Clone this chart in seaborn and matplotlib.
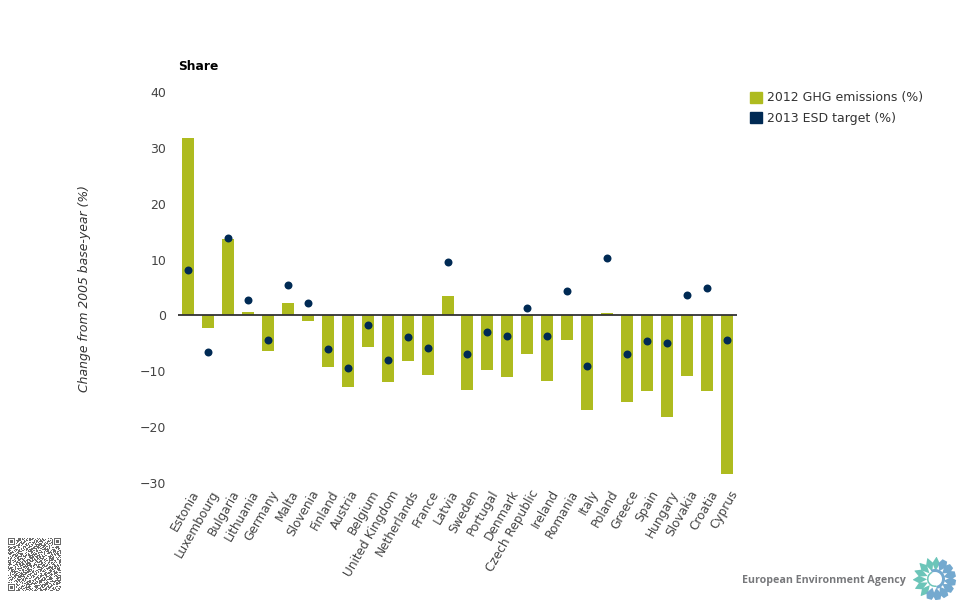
#!/usr/bin/env python3
# Greenhouse gas change per country against the 2013 ESD target.
import math

import numpy as np
import pandas as pd
import seaborn as sns
import matplotlib
matplotlib.use('Agg')
import matplotlib.pyplot as plt
from matplotlib.patches import Patch, Polygon, Wedge
from matplotlib.transforms import ScaledTranslation

countries = ['Estonia', 'Luxembourg', 'Bulgaria', 'Lithuania', 'Germany', 'Malta', 'Slovenia',
  'Finland', 'Austria', 'Belgium', 'United Kingdom', 'Netherlands', 'France', 'Latvia',
  'Sweden', 'Portugal', 'Denmark', 'Czech Republic', 'Ireland', 'Romania', 'Italy',
  'Poland', 'Greece', 'Spain', 'Hungary', 'Slovakia', 'Croatia', 'Cyprus']
ghg2012 = [31.8, -2.3, 13.7, 0.6, -6.4, 2.2, -1.0,
  -9.3, -12.8, -5.7, -11.9, -8.2, -10.7, 3.5,
  -13.4, -9.8, -11.0, -6.9, -11.8, -4.4, -17.0,
  0.4, -15.5, -13.6, -18.2, -10.9, -13.6, -28.4]
esd2013 = [8.1, -6.5, 13.9, 2.8, -4.4, 5.4, 2.3,
  -6.0, -9.4, -1.8, -8.0, -3.9, -5.8, 9.5,
  -6.9, -2.9, -3.6, 1.3, -3.7, 4.4, -9.0,
  10.2, -6.9, -4.5, -4.9, 3.7, 5.0, -4.4]
yTicks = [-30, -20, -10, 0, 10, 20, 30, 40]

# Decorative QR code texture, one hex value per row
qrRows = ['1d3a96c52', '0b67e41d9', '3c95a07e4', '17e2d8b36', '2a41f6c98', '05bc3971e', '34d86ea25',
  '1f072cb94', '28e5b4d17', '0c9a67f32', '3b14de869', '16f8a25c7', '21c73e9b4', '0e5d98a63',
  '39a26f1d8', '14c7eb350', '2d83a96f1', '07f1c4e2b', '32b6d8597', '1a49e07c6', '25d3b6f18',
  '0868fa3d5', '3e17c92b4', '13a5d674e', '2cf9481b6', '06e2b7d39', '3149ca6f7', '1b76e3d05',
  '24c08f9b2', '0d95b16e8', '3a6f27c41', '11d8e5a96', '2e37b4c6d']
QR_SIZE = 53

GREEN = '#aebb1f'
NAVY = '#002a54'
TEXT = '#444444'
FONT_SIZE = 8.7

sns.set_theme(style='white')
plt.rcParams['font.family'] = ['DejaVu Sans']

df = pd.DataFrame({'country': countries, 'ghg': ghg2012, 'esd': esd2013})

fig = plt.figure(figsize=(9.66, 6.0), dpi=100)
ax = fig.add_axes([178/966, 1 - 483/600, (737 - 178)/966, (483 - 92)/600])

sns.barplot(data=df, x='country', y='ghg', color=GREEN, width=0.6, saturation=1, linewidth=0, ax=ax)
sns.scatterplot(data=df, x='country', y='esd', color=NAVY, s=33, linewidth=0, zorder=4, ax=ax)

ax.set_xlim(-0.5, len(countries) - 0.5)
ax.set_ylim(-30, 40)
ax.axhline(0, color='#333333', lw=1.3, zorder=3)
ax.set_yticks(yTicks)
ax.set_xlabel('')
ax.set_ylabel('Change from 2005 base-year (%)', fontsize=8.95, style='italic', color='#333333', labelpad=0)
ax.yaxis.set_label_coords((91 - 178)/(737 - 178), 1 - (288 - 92)/391)
ax.tick_params(axis='y', labelsize=9, labelcolor=TEXT, length=0, pad=8.5)
ax.tick_params(axis='x', labelsize=FONT_SIZE, labelcolor=TEXT, length=0, pad=3.5)
plt.setp(ax.get_xticklabels(), rotation=60, ha='right', rotation_mode='anchor')
nudge = ScaledTranslation(2.5/100, 0, fig.dpi_scale_trans)
for label in ax.get_xticklabels():
  label.set_transform(label.get_transform() + nudge)
sns.despine(ax=ax, left=True, bottom=True)

handles = [Patch(color=GREEN, label='2012 GHG emissions (%)'), Patch(color=NAVY, label='2013 ESD target (%)')]
fig.legend(handles=handles, loc='upper left', bbox_to_anchor=(750/966, 1 - 91.5/600), frameon=False,
  fontsize=9.0, labelcolor='#333333', handlelength=0.96, handleheight=0.96, handletextpad=0.4,
  labelspacing=0.58, borderpad=0, borderaxespad=0)

# Everything below is placed in figure pixels
overlay = fig.add_axes([0, 0, 1, 1], zorder=5)
overlay.set_xlim(0, 966)
overlay.set_ylim(600, 0)
overlay.axis('off')
overlay.patch.set_alpha(0)

overlay.text(178, 67, 'Share', fontsize=8.8, fontweight='bold', color='black', va='center')
overlay.text(742, 580, 'European Environment Agency', family='Open Sans', fontsize=7.7, fontweight='bold',
  color='#77787b', va='center')

# QR code
bits = ''.join(format(int(row, 16), '036b') for row in qrRows)
bits = bits + bits[::-1] + bits[17:]
qr = np.array([int(b) for b in bits[:QR_SIZE*QR_SIZE]], dtype=float).reshape(QR_SIZE, QR_SIZE)
finder = np.ones((7, 7))
finder[1:6, 1:6] = 0
finder[2:5, 2:5] = 1
far = QR_SIZE - 7
for r, c in [(0, 0), (0, far), (far, 0)]:
  qr[max(r - 1, 0):r + 8, max(c - 1, 0):c + 8] = 0
  qr[r:r + 7, c:c + 7] = finder
overlay.imshow(qr, cmap='gray_r', vmin=0, vmax=1.7, extent=(8, 61, 591, 538), interpolation='nearest',
  aspect='auto')
overlay.set_xlim(0, 966)
overlay.set_ylim(600, 0)

# Logo
cx, cy = 935, 579
TEAL = '#6cc5b9'
BLUE = '#74a9cf'
def petal(angleDeg, inner, outer, halfWidth, tipWidth, color):
  a = math.radians(angleDeg)
  ux, uy = math.cos(a), -math.sin(a)
  vx, vy = -uy, ux
  mid = inner + (outer - inner)*0.55
  pts = [(cx + ux*inner, cy + uy*inner),
    (cx + ux*mid + vx*halfWidth, cy + uy*mid + vy*halfWidth),
    (cx + ux*outer + vx*tipWidth, cy + uy*outer + vy*tipWidth),
    (cx + ux*outer - vx*tipWidth, cy + uy*outer - vy*tipWidth),
    (cx + ux*mid - vx*halfWidth, cy + uy*mid - vy*halfWidth)]
  overlay.add_patch(Polygon(pts, closed=True, color=color, lw=0))

for angle in [86, 110, 134, 158, 182, 206, 230]:
  petal(angle, 8, 22, 3.8, 0.3, TEAL)
for angle in [62, 38, 14, -10, -34, -58, -82, -106]:
  petal(angle, 9, 21, 4.4, 2.6, BLUE)
overlay.add_patch(Wedge((cx, cy), 10, -115, 80, width=3, color=BLUE, lw=0))
overlay.add_patch(Wedge((cx, cy), 8, 80, 245, width=1.5, color=TEAL, lw=0))

plt.savefig('out.png', dpi=100)
